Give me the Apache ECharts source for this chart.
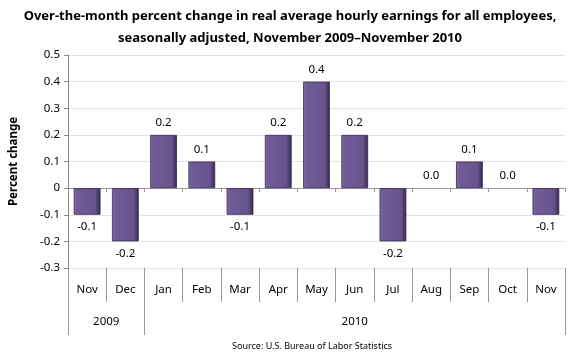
<!DOCTYPE html>
<html><head><meta charset="utf-8">
<script src="https://cdn.jsdelivr.net/npm/echarts@6/dist/echarts.min.js"></script>
<style>html,body{margin:0;padding:0;background:#fff}#c{width:580px;height:360px}</style>
</head><body><div id="c"></div>
<script>
const months = ['Nov','Dec','Jan','Feb','Mar','Apr','May','Jun','Jul','Aug','Sep','Oct','Nov'];
const values = [-0.1,-0.2,0.2,0.1,-0.1,0.2,0.4,0.2,-0.2,0.0,0.1,0.0,-0.1];
const years = ['2009','2010'];
const yearMonthCounts = [2,11];

// year axis: half-month points (boundaryGap false)
const halfPts = months.length*2+1;
const yearAxisData = [];
for(let i=0;i<halfPts;i++) yearAxisData.push(String(i));
const yearLabelAt = {}; const yearTickAt = {0:true};
let acc = 0;
years.forEach((y,k)=>{ const start=acc*2; acc+=yearMonthCounts[k]; const end=acc*2; yearLabelAt[(start+end)/2]=y; yearTickAt[end]=true; });

const font = 'Noto Sans';
const chart = echarts.init(document.getElementById('c'), null, {renderer:'canvas'});
const barColor = new echarts.graphic.LinearGradient(0,0,1,0,[
  {offset:0,color:'#806da5'},{offset:0.12,color:'#705d97'},{offset:0.8,color:'#67548d'},{offset:0.92,color:'#4a3a68'},{offset:1,color:'#2f2342'}]);
chart.setOption({
  animation:false,
  title:{
    text:'Over-the-month percent change in real average hourly earnings for all employees,\nseasonally adjusted, November 2009\u2013November 2010',
    left:'center', top:0,
    textStyle:{fontFamily:font,fontWeight:'bold',fontSize:13,lineHeight:22,color:'#000'}
  },
  graphic:[{type:'text',left:232,top:342,style:{text:'Source: U.S. Bureau of Labor Statistics',font:'9px "Noto Sans"',fill:'#000'}}],
  grid:{left:60,right:15,top:55,bottom:92},
  yAxis:{
    type:'value',min:-0.3,max:0.5,interval:0.1,
    name:'Percent change',nameLocation:'middle',nameRotate:90,nameGap:48,
    nameTextStyle:{fontFamily:font,fontWeight:'bold',fontSize:11.5,color:'#000'},
    axisLine:{show:true,lineStyle:{color:'#888'}},
    axisTick:{show:true,length:4,lineStyle:{color:'#888'}},
    axisLabel:{margin:8,fontFamily:font,fontSize:11.5,color:'#000',
      formatter:v=>{const r=Math.round(v*10)/10; return r===0?'0':r.toFixed(1);}},
    splitLine:{lineStyle:{color:'#e4e4e4'}}
  },
  xAxis:[
    {type:'category',data:months,position:'bottom',
     axisLine:{onZero:true,lineStyle:{color:'#999'}},
     axisTick:{show:true,length:4,lineStyle:{color:'#999'}},
     axisLabel:{show:false}},
    {type:'category',data:months,position:'bottom',
     axisLine:{show:false,onZero:false},
     axisTick:{show:true,length:34,lineStyle:{color:'#999'}},
     axisLabel:{margin:16,fontFamily:font,fontSize:11.5,color:'#000'}},
    {type:'category',data:yearAxisData,boundaryGap:false,position:'bottom',
     axisLine:{show:false,onZero:false},
     axisTick:{show:true,length:67,interval:(i)=>!!yearTickAt[i],lineStyle:{color:'#999'}},
     axisLabel:{interval:0,margin:48,fontFamily:font,fontSize:11.5,color:'#000',
       formatter:(v)=>yearLabelAt[+v]||''}}
  ],
  series:[{
    type:'bar',xAxisIndex:0,barWidth:'70%',
    data:values.map(v=>({value:v,label:{position:v<0?'bottom':'top'},
      itemStyle:v===0?{borderWidth:0,color:'rgba(0,0,0,0)'}:{}})),
    itemStyle:{color:barColor,borderColor:'#3a2c52',borderWidth:0.8},
    label:{show:true,distance:6,fontFamily:font,fontSize:11.5,color:'#000',
      formatter:p=>p.value.toFixed(1)}
  }]
});
</script></body></html>
